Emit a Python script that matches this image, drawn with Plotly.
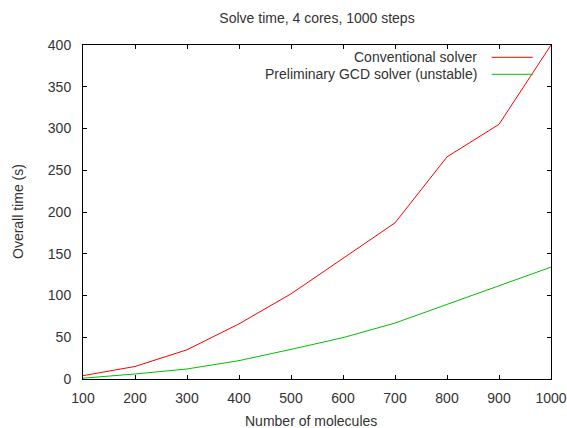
import plotly.graph_objects as go

molecules = [100, 200, 300, 400, 500, 600, 700, 800, 900, 1000]
conventional = [4, 15, 35, 66, 102, 144, 187, 266, 305, 400]
gcd = [1, 6, 12, 22, 35.5, 49.5, 67, 89.5, 112, 134]
series_names = ["Conventional solver", "Preliminary GCD solver (unstable)"]
colors = ["#ff0000", "#00c000"]

L, R, T, B = 83, 16, 45, 49
W, H = 567, 428
pw, ph = W - L - R, H - T - B

fig = go.Figure()
for name, ys, c in zip(series_names, [conventional, gcd], colors):
    fig.add_trace(go.Scatter(x=molecules, y=ys, mode="lines", name=name,
                             line=dict(color=c, width=1), showlegend=False))

font = dict(family="Liberation Sans, Arial, sans-serif", size=14, color="#333333")
axis_common = dict(showgrid=False, zeroline=False, showline=True, linecolor="#000000",
                   linewidth=1, mirror="ticks", ticks="inside", ticklen=4,
                   tickcolor="#000000", tickfont=font, automargin=False)

fig.update_layout(
    width=W, height=H,
    margin=dict(l=L, r=R, t=T, b=B, autoexpand=False),
    paper_bgcolor="white", plot_bgcolor="white",
    font=font,
    title=dict(text="Solve time, 4 cores, 1000 steps", x=(L + pw / 2) / W, xanchor="center",
               y=1 - 18 / H, yanchor="middle", font=font),
    xaxis=dict(range=[100, 1000], tickvals=molecules, ticklabelstandoff=6, **axis_common),
    yaxis=dict(range=[0, 400], dtick=50, ticklabelstandoff=8, **axis_common),
)

# axis titles
fig.add_annotation(xref="paper", yref="paper", x=(311 - L) / pw, y=-(421 - 379) / ph,
                   text="Number of molecules", showarrow=False, xanchor="center",
                   yanchor="middle", font=font)
fig.add_annotation(xref="paper", yref="paper", x=-(83 - 18) / pw, y=0.5,
                   text="Overall time (s)", showarrow=False, textangle=-90,
                   xanchor="center", yanchor="middle", font=font)

# legend drawn gnuplot-style: text right-aligned, sample line to its right
rows_y = [1 - (57.3 - T) / ph, 1 - (74.3 - T) / ph]
for name, c, yy in zip(series_names, colors, rows_y):
    fig.add_annotation(xref="paper", yref="paper", x=(479 - L) / pw, y=yy,
                       text=name, showarrow=False, xanchor="right", yanchor="middle", font=font)
    fig.add_shape(type="line", xref="paper", yref="paper",
                  x0=(491.7 - L) / pw, x1=(532.7 - L) / pw, y0=yy, y1=yy,
                  line=dict(color=c, width=1))

fig.write_html("out.html", config={"displayModeBar": False},
               post_script="document.body.style.margin='0';document.body.style.overflow='hidden';")
